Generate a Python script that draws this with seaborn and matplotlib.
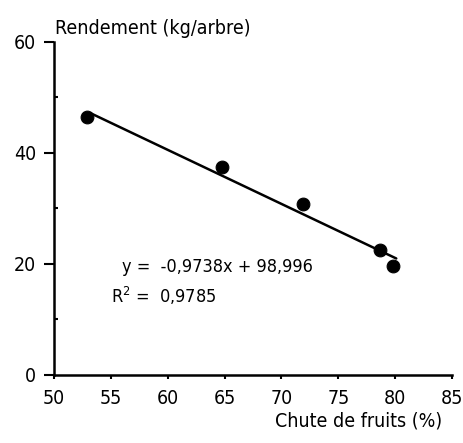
import numpy as np
import pandas as pd
import matplotlib
matplotlib.use("Agg")
import matplotlib.pyplot as plt
import seaborn as sns
from matplotlib.ticker import MultipleLocator

# chute de fruits (%) vs rendement (kg/arbre)
chute = [52.9, 64.8, 71.9, 78.7, 79.8]
rendement = [46.5, 37.4, 30.8, 22.6, 19.7]
pente = -0.9738
origine = 98.996
r2_txt = "0,9785"

sns.set_style("ticks")
plt.rcParams['font.family'] = ['DejaVu Sans']
plt.rcParams['font.stretch'] = 'condensed'
plt.rcParams['mathtext.default'] = 'regular'
for k in ['text.color', 'axes.labelcolor', 'xtick.color', 'ytick.color', 'axes.edgecolor']:
    plt.rcParams[k] = 'black'

df = pd.DataFrame({"chute": chute, "rendement": rendement})
xl = np.array([min(chute) + 0.3, max(chute) + 0.3])
dl = pd.DataFrame({"x": xl, "y": pente * xl + origine})

fig = plt.figure(figsize=(4.63, 4.43), dpi=100)
ax = fig.add_axes([0.1166, 0.1535, 0.8596, 0.7517])

sns.lineplot(data=dl, x="x", y="y", color="black", linewidth=1.8, ax=ax)
sns.scatterplot(data=df, x="chute", y="rendement", color="black", s=85,
                edgecolor="black", zorder=3, ax=ax)

ax.set_xlim(50, 85)
ax.set_ylim(0, 60)
ax.xaxis.set_major_locator(MultipleLocator(5))
ax.yaxis.set_major_locator(MultipleLocator(20))
ax.yaxis.set_minor_locator(MultipleLocator(10))
ax.tick_params(axis='y', which='major', length=7, width=1.5, pad=6, labelsize=14)
ax.tick_params(axis='y', which='minor', direction='in', length=3, width=1.5)
ax.tick_params(axis='x', which='major', length=3, width=1.5, pad=7, labelsize=14)
for s in ["left", "bottom"]:
    ax.spines[s].set_linewidth(1.8)
sns.despine(ax=ax)

ax.set_xlabel("Chute de fruits (%)", fontsize=14, loc='right')
ax.xaxis.set_label_coords(0.975, -0.11)
ax.set_ylabel("")
ax.text(0.003, 1.024, "Rendement (kg/arbre)", transform=ax.transAxes,
        fontsize=14, va='baseline', ha='left')

ax.text(0.171, 0.309, "y =  -0,9738x + 98,996", transform=ax.transAxes,
        fontsize=13, va='baseline')
ax.text(0.142, 0.216, "R$^{2}$ =  " + r2_txt, transform=ax.transAxes,
        fontsize=13, va='baseline')

fig.savefig("out.png", dpi=100)
